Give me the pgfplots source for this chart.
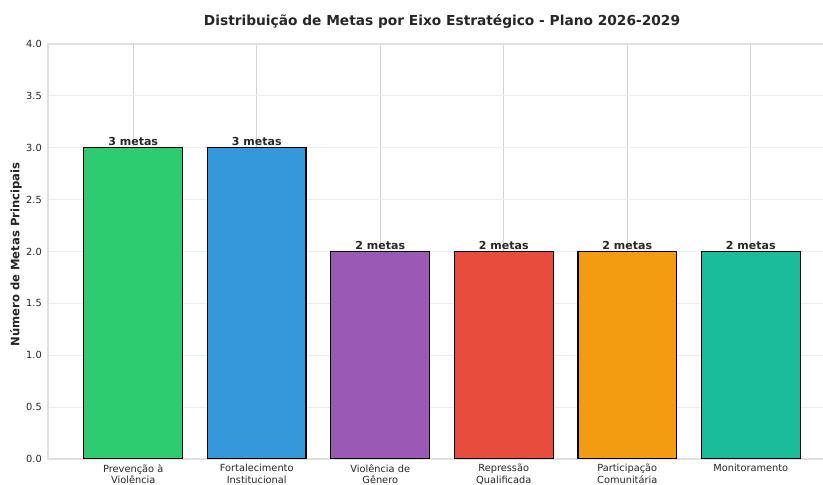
\documentclass[border=0pt]{standalone}
\usepackage{pgfplots}
\pgfplotsset{compat=1.18}
\usepackage{fontspec}
\setmainfont{DejaVu Sans}
\definecolor{cgreen}{HTML}{2ECC71}
\definecolor{cblue}{HTML}{3498DB}
\definecolor{cpurple}{HTML}{9B59B6}
\definecolor{cred}{HTML}{E74C3C}
\definecolor{corange}{HTML}{F39C12}
\definecolor{cteal}{HTML}{1ABC9C}
\definecolor{txt}{HTML}{262626}
\definecolor{spine}{HTML}{E0E0E0}
\begin{document}
\begin{tikzpicture}
\path[use as bounding box] (0,0) rectangle (823bp,485bp);
\clip (0,0) rectangle (823bp,485bp);
\begin{axis}[
  at={(48bp,26bp)}, anchor=south west,
  scale only axis, width=788bp, height=415bp,
  xmin=-0.69, xmax=5.69, ymin=0, ymax=4,
  xtick={0,1,2,3,4,5},
  xticklabels={{Prevenção à\\Violência},{Fortalecimento\\Institucional},{Violência de\\Gênero},{Repressão\\Qualificada},{Participação\\Comunitária},{Monitoramento}},
  ytick={0,0.5,1,1.5,2,2.5,3,3.5,4},
  /pgf/number format/assume math mode=true,
  yticklabel={\pgfmathprintnumber[fixed,fixed zerofill,precision=1]{\tick}},
  major tick length=0pt,
  tick style={draw=none},
  xmajorgrids, ymajorgrids,
  major x grid style={color=black!17, line width=0.9bp},
  major y grid style={color=black!7, line width=0.9bp},
  axis line style={spine, line width=1.2bp},
  axis on top=false,
  x tick label style={font=\fontsize{9.8bp}{11.5bp}\selectfont, text=txt, align=center, inner sep=0pt, yshift=-5bp, anchor=north},
  y tick label style={font=\fontsize{9.8bp}{11.5bp}\selectfont, text=txt, inner sep=0pt, xshift=-6bp},
  ylabel={Número de Metas Principais},
  ylabel style={font=\bfseries\fontsize{11.6bp}{13bp}\selectfont, text=txt, at={(axis description cs:-0.0406,0.4925)}, anchor=center, rotate=0},
  title={Distribuição de Metas por Eixo Estratégico - Plano 2026-2029},
  title style={font=\bfseries\fontsize{13.75bp}{16bp}\selectfont, text=txt, at={(axis description cs:0.5,1.04)}, anchor=center},
  every axis plot/.append style={ybar, bar width=0.8, bar shift=0pt, draw=black, line width=1.3bp},
  point meta=explicit symbolic,
  nodes near coords,
  every node near coord/.append style={font=\bfseries\fontsize{11bp}{12bp}\selectfont, text=txt, inner sep=1.2bp, anchor=south},
]
\addplot[fill=cgreen] coordinates {(0,3) [3 metas]};
\addplot[fill=cblue] coordinates {(1,3) [3 metas]};
\addplot[fill=cpurple] coordinates {(2,2) [2 metas]};
\addplot[fill=cred] coordinates {(3,2) [2 metas]};
\addplot[fill=corange] coordinates {(4,2) [2 metas]};
\addplot[fill=cteal] coordinates {(5,2) [2 metas]};
\end{axis}
\end{tikzpicture}
\end{document}
